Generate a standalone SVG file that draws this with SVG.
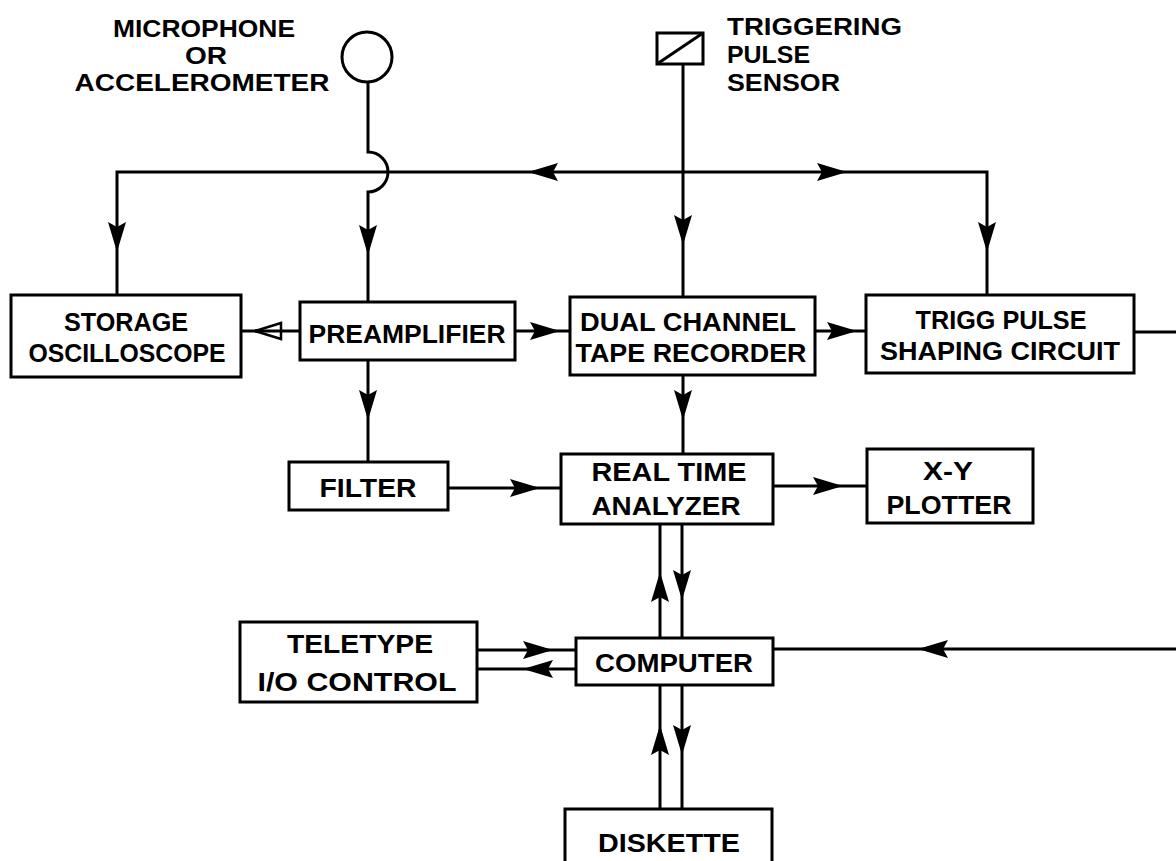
<svg xmlns="http://www.w3.org/2000/svg" width="1176" height="861" viewBox="0 0 1176 861">
<defs>
<path id="ah" d="M0,0 L-30,-9 L-25,0 L-30,9 Z"/>
<path id="oh" d="M0,0 L-26,-8 L-26,8 Z"/>
</defs>
<style>
.box{fill:none;stroke:#000;stroke-width:3}
.ln{fill:none;stroke:#000;stroke-width:3}
.t{font-family:"Liberation Sans",Arial,sans-serif;font-weight:bold;font-size:25px;fill:#000;text-anchor:middle}
.tl{font-family:"Liberation Sans",Arial,sans-serif;font-weight:bold;font-size:24px;fill:#000;text-anchor:start}
.tm{font-family:"Liberation Sans",Arial,sans-serif;font-weight:bold;font-size:24px;fill:#000;text-anchor:middle}
.hd{fill:#000}
.ohd{fill:#fff;stroke:#000;stroke-width:2.5}
</style>
<rect width="1176" height="861" fill="#fff"/>

<g id="microphone">
<circle cx="367" cy="57" r="25" class="box"/>
<text class="tm" x="204" y="37" textLength="182" lengthAdjust="spacingAndGlyphs">MICROPHONE</text>
<text class="tm" x="206" y="64" textLength="42" lengthAdjust="spacingAndGlyphs">OR</text>
<text class="tm" x="202" y="91" textLength="255" lengthAdjust="spacingAndGlyphs">ACCELEROMETER</text>
</g>

<g id="sensor">
<rect x="657" y="33" width="46" height="31" class="box"/>
<line x1="657" y1="64" x2="703" y2="33" class="ln"/>
<text class="tl" x="727" y="35" textLength="175" lengthAdjust="spacingAndGlyphs">TRIGGERING</text>
<text class="tl" x="727" y="63" textLength="83" lengthAdjust="spacingAndGlyphs">PULSE</text>
<text class="tl" x="727" y="91" textLength="113" lengthAdjust="spacingAndGlyphs">SENSOR</text>
</g>

<g id="storage">
<rect x="11" y="295" width="230" height="82" class="box"/>
<text class="t" x="126" y="331" textLength="124" lengthAdjust="spacingAndGlyphs">STORAGE</text>
<text class="t" x="127" y="362" textLength="197" lengthAdjust="spacingAndGlyphs">OSCILLOSCOPE</text>
</g>

<g id="preamp">
<rect x="300" y="302" width="215" height="58" class="box"/>
<text class="t" x="407" y="343" textLength="197" lengthAdjust="spacingAndGlyphs">PREAMPLIFIER</text>
</g>

<g id="dual">
<rect x="570" y="297" width="245" height="78" class="box"/>
<text class="t" x="688" y="331" textLength="216" lengthAdjust="spacingAndGlyphs">DUAL  CHANNEL</text>
<text class="t" x="691" y="362" textLength="231" lengthAdjust="spacingAndGlyphs">TAPE RECORDER</text>
</g>

<g id="trigg">
<rect x="866" y="295" width="268" height="78" class="box"/>
<text class="t" x="1001" y="329" textLength="171" lengthAdjust="spacingAndGlyphs">TRIGG PULSE</text>
<text class="t" x="1000" y="360" textLength="240" lengthAdjust="spacingAndGlyphs">SHAPING  CIRCUIT</text>
</g>

<g id="filter">
<rect x="289" y="462" width="159" height="48" class="box"/>
<text class="t" x="368" y="497" textLength="97" lengthAdjust="spacingAndGlyphs">FILTER</text>
</g>

<g id="rta">
<rect x="561" y="454" width="212" height="70" class="box"/>
<text class="t" x="669" y="481" textLength="155" lengthAdjust="spacingAndGlyphs">REAL  TIME</text>
<text class="t" x="666" y="515" textLength="149" lengthAdjust="spacingAndGlyphs">ANALYZER</text>
</g>

<g id="plotter">
<rect x="867" y="449" width="166" height="74" class="box"/>
<text class="t" x="948" y="480" textLength="50" lengthAdjust="spacingAndGlyphs">X-Y</text>
<text class="t" x="949" y="514" textLength="125" lengthAdjust="spacingAndGlyphs">PLOTTER</text>
</g>

<g id="teletype">
<rect x="240" y="622" width="237" height="80" class="box"/>
<text class="t" x="360" y="653" textLength="146" lengthAdjust="spacingAndGlyphs">TELETYPE</text>
<text class="t" x="357" y="691" textLength="199" lengthAdjust="spacingAndGlyphs">I/O  CONTROL</text>
</g>

<g id="computer">
<rect x="576" y="638" width="197" height="47" class="box"/>
<text class="t" x="674" y="672" textLength="158" lengthAdjust="spacingAndGlyphs">COMPUTER</text>
</g>

<g id="diskette">
<path d="M565,870 V809 H772 V870" class="box"/>
<text class="t" x="669" y="852" textLength="142" lengthAdjust="spacingAndGlyphs">DISKETTE</text>
</g>

<g id="connectors">
<path class="ln" d="M117,295 V172 H987 V295"/>
<path class="ln" d="M368,82 V152 A20,20 0 0 1 368,192 V302"/>
<path class="ln" d="M683,64 V297"/>
<use href="#ah" class="hd" transform="translate(117,252) rotate(90)"/>
<use href="#ah" class="hd" transform="translate(368,255) rotate(90)"/>
<use href="#ah" class="hd" transform="translate(683,245) rotate(90)"/>
<use href="#ah" class="hd" transform="translate(987,252) rotate(90)"/>
<use href="#ah" class="hd" transform="translate(528,172) rotate(180)"/>
<use href="#ah" class="hd" transform="translate(847,172)"/>

<path class="ln" d="M241,331 H300"/>
<use href="#oh" class="ohd" transform="translate(255,331) rotate(180)"/>
<path class="ln" d="M255,331 H281"/>
<path class="ln" d="M515,331 H570"/>
<use href="#ah" class="hd" transform="translate(560,331)"/>
<path class="ln" d="M815,331 H866"/>
<use href="#ah" class="hd" transform="translate(857,331)"/>
<path class="ln" d="M1134,332 H1176"/>

<path class="ln" d="M368,360 V462"/>
<use href="#ah" class="hd" transform="translate(368,420) rotate(90)"/>
<path class="ln" d="M683,375 V454"/>
<use href="#ah" class="hd" transform="translate(683,420) rotate(90)"/>
<path class="ln" d="M448,488 H561"/>
<use href="#ah" class="hd" transform="translate(540,488)"/>
<path class="ln" d="M773,486 H867"/>
<use href="#ah" class="hd" transform="translate(843,486)"/>

<path class="ln" d="M660,638 V524"/>
<use href="#ah" class="hd" transform="translate(660,572) rotate(-90)"/>
<path class="ln" d="M682,524 V638"/>
<use href="#ah" class="hd" transform="translate(682,600) rotate(90)"/>

<path class="ln" d="M477,650 H576"/>
<use href="#ah" class="hd" transform="translate(553,650)"/>
<path class="ln" d="M576,669 H477"/>
<use href="#ah" class="hd" transform="translate(523,669) rotate(180)"/>

<path class="ln" d="M660,809 V685"/>
<use href="#ah" class="hd" transform="translate(660,725) rotate(-90)"/>
<path class="ln" d="M682,685 V809"/>
<use href="#ah" class="hd" transform="translate(682,755) rotate(90)"/>

<path class="ln" d="M1176,649 H773"/>
<use href="#ah" class="hd" transform="translate(918,649) rotate(180)"/>
</g>
</svg>
